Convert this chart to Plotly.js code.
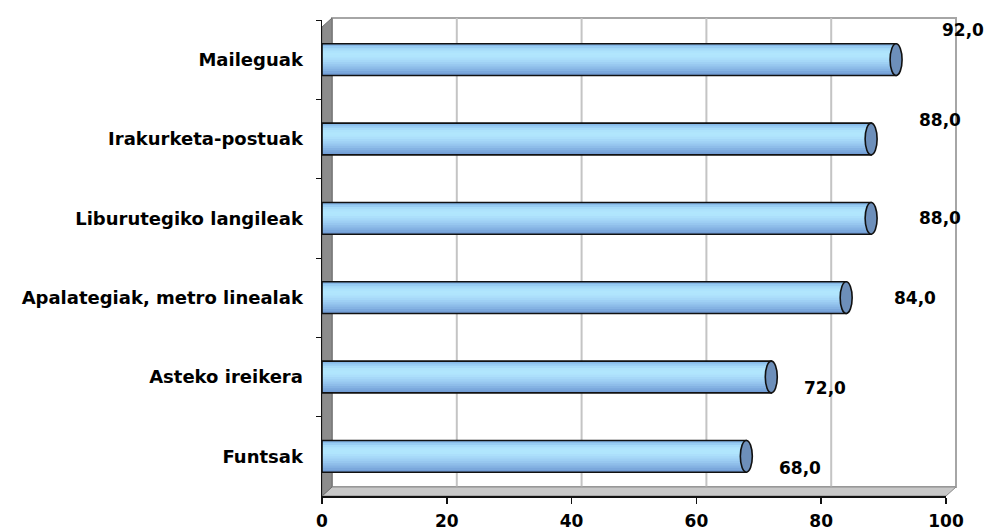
<!DOCTYPE html>
<html>
<head>
<meta charset="utf-8">
<script src="https://cdn.plot.ly/plotly-3.0.1.min.js"></script>
<style>html,body{margin:0;padding:0;background:#fff;}#chart{width:986px;height:531px;}</style>
</head>
<body>
<div id="chart"></div>
<script>
// ---- data ----
const categories = ["Maileguak", "Irakurketa-postuak", "Liburutegiko langileak", "Apalategiak, metro linealak", "Asteko ireikera", "Funtsak"];
const values = [92.0, 88.0, 88.0, 84.0, 72.0, 68.0];
const tickValues = [0, 20, 40, 60, 80, 100];
const tickLabels = ["0", "20", "40", "60", "80", "100"];

// ---- style ----
const FONT = "DejaVu Sans, Verdana, sans-serif";
const stripeColors = ["#86b9e8", "#98cdf3", "#a6dbf9", "#aee3fc", "#b1e6fd", "#b0e5fd", "#acdffb",
                      "#a6d8f8", "#9fd0f4", "#97c7ef", "#8ebde9", "#85b3e3", "#7ba8dc", "#729dd5"];
const barW = 0.4;
const labelXShift = [67, 69, 69, 69, 54, 54];
const labelYShift = [30, 19, 0, 0, -11, -12];
const DX = 10, DY = 9;           // pseudo-3D depth offset (px)
const plotW = 624, plotH = 476;

const traces = [];
const n = stripeColors.length;
const sw = barW / n;
stripeColors.forEach((c, k) => {
  traces.push({
    type: "bar", orientation: "h",
    x: values, y: categories,
    width: barW - k * sw, offset: -barW / 2 + k * sw,
    marker: {color: c, line: {width: 0}},
    hoverinfo: "skip", showlegend: false
  });
});
// outline
traces.push({
  type: "bar", orientation: "h",
  x: values, y: categories,
  width: barW, offset: -barW / 2,
  marker: {color: "rgba(0,0,0,0)", line: {color: "#111", width: 1.6}},
  hoverinfo: "skip", showlegend: false
});

const shapes = [];
// back wall
shapes.push({type: "rect", layer: "below", xref: "paper", yref: "paper",
  xsizemode: "pixel", ysizemode: "pixel", xanchor: 0, yanchor: 0,
  x0: DX, x1: plotW + DX, y0: DY, y1: plotH + 2,
  fillcolor: "#ffffff", line: {color: "#a6a6a6", width: 2}});
// grid lines on back wall
tickValues.slice(1, -1).forEach(v => {
  shapes.push({type: "line", layer: "below", xref: "x", yref: "paper",
    xsizemode: "pixel", ysizemode: "pixel", xanchor: v, yanchor: 0,
    x0: DX, x1: DX, y0: DY, y1: plotH + 2,
    line: {color: "#c4c4c4", width: 2}});
});
// floor
shapes.push({type: "path", layer: "below", xref: "paper", yref: "paper",
  xsizemode: "pixel", ysizemode: "pixel", xanchor: 0, yanchor: 0,
  path: `M0,0 L${plotW},0 L${plotW + DX},${DY} L${DX},${DY} Z`,
  fillcolor: "#c8c8c8", line: {color: "#8a8a8a", width: 1}});
// left wall
shapes.push({type: "path", layer: "below", xref: "paper", yref: "paper",
  xsizemode: "pixel", ysizemode: "pixel", xanchor: 0, yanchor: 0,
  path: `M0,0 L${DX},${DY} L${DX},${plotH + 2} L0,${plotH + 2 - DY} Z`,
  fillcolor: "#8c8c8c", line: {color: "#6e6e6e", width: 1}});
// end caps
values.forEach((v, i) => {
  shapes.push({type: "circle", layer: "above", xref: "x", yref: "y",
    xsizemode: "pixel", xanchor: v, x0: -6, x1: 6,
    y0: i - barW / 2, y1: i + barW / 2,
    fillcolor: "#6d8fba", line: {color: "#111", width: 1.6}});
});

const annotations = values.map((v, i) => ({
  x: v, y: categories[i], xref: "x", yref: "y",
  text: v.toFixed(1).replace(".", ","), showarrow: false,
  xshift: labelXShift[i], yshift: labelYShift[i],
  font: {family: FONT, size: 17, color: "#000", weight: "bold"}
}));

const layout = {
  width: 986, height: 531,
  margin: {l: 322, r: 40, t: 20, b: 35, pad: 0},
  paper_bgcolor: "#ffffff", plot_bgcolor: "rgba(0,0,0,0)",
  barmode: "overlay", showlegend: false,
  font: {family: FONT, size: 17, color: "#000"},
  xaxis: {range: [0, 100], tickvals: tickValues, ticktext: tickLabels,
    showgrid: false, zeroline: false, showline: true, linecolor: "#111", linewidth: 2,
    ticks: "outside", ticklen: 6, tickcolor: "#111", tickwidth: 1.5,
    ticklabelstandoff: 3,
    tickfont: {family: FONT, size: 17, color: "#000", weight: "bold"}, fixedrange: true},
  yaxis: {type: "category", autorange: "reversed", categoryorder: "array", categoryarray: categories,
    showgrid: false, zeroline: false, showline: true, linecolor: "#111", linewidth: 1.5,
    ticks: "outside", ticklen: 5, tickcolor: "#111", tickson: "boundaries",
    ticklabelstandoff: 14,
    tickfont: {family: FONT, size: 18, color: "#000", weight: "bold"}, fixedrange: true},
  shapes: shapes,
  annotations: annotations
};

Plotly.newPlot("chart", traces, layout, {displayModeBar: false, staticPlot: true});
</script>
</body>
</html>
